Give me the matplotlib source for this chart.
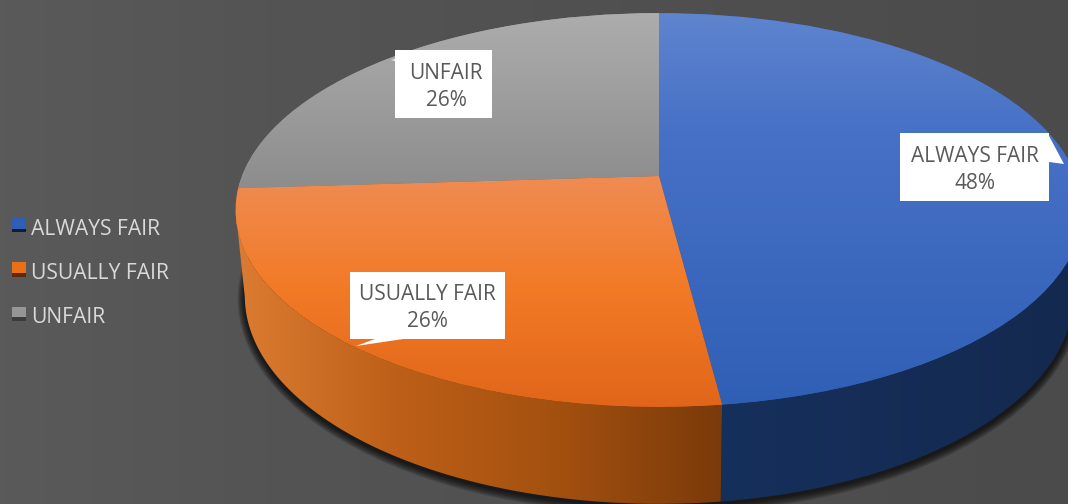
#3D looking pie chart, ALWAYS FAIR / USUALLY FAIR / UNFAIR
import numpy as np
import matplotlib
matplotlib.use("Agg")
import matplotlib.pyplot as plt
from matplotlib.colors import LinearSegmentedColormap
from matplotlib.legend_handler import HandlerBase
from matplotlib.patches import Patch, PathPatch, Polygon, Rectangle
from matplotlib.path import Path
from matplotlib.transforms import Transform

plt.rcParams['font.family'] = ['Open Sans', 'DejaVu Sans']

#chart data
categories = ["ALWAYS FAIR", "USUALLY FAIR", "UNFAIR"]
percents = [48, 26, 26]

#colors, top to bottom on the top face, left to right on the side wall
top_colors = [[(0, "#5f85ce"), (0.3, "#4771c6"), (1, "#2f5fb5")],
              [(0, "#ef8c55"), (0.5, "#f27a25"), (1, "#e0651a")],
              [(0, "#adadad"), (0.5, "#9d9d9d"), (1, "#8c8c8c")]]
side_colors = [["#16305c", "#14294f"],
               ["#dc7c32", "#bd5f18", "#a3500f", "#7a3a0a"],
               ["#555555", "#555555"]]
side_ranges = [(720, 1085), (236, 722), (230, 1085)]
legend_colors = ["#2f5fb5", "#ea6f17", "#969696"]
legend_darks = ["#0e1c3a", "#5c2a08", "#3c3c3c"]

#white label boxes (left, top, width, height), text center and callout tail
label_boxes = [(900, 133, 149, 68), (350, 272, 155, 67), (395, 50, 97, 68)]
label_centers = [(975, 170), (427, 308), (446, 87)]
label_tails = [[(1048, 134), (1049, 162), (1064, 164)],
               [(375, 339), (410, 338), (356, 346)],
               [(396, 59), (396, 61), (391, 60)]]

TILT = 0.1725


class Perspective(Transform):
    #maps the unit circle of the pie to the tilted disc, in pixels
    input_dims = 2
    output_dims = 2

    def __init__(self, cx, cy, sx, sy, k=TILT):
        super().__init__()
        self.cx, self.cy, self.sx, self.sy, self.k = cx, cy, sx, sy, k

    def transform_non_affine(self, values):
        values = np.asarray(values)
        w = 1 + self.k * values[:, 1]
        return np.column_stack([self.cx + self.sx * values[:, 0] / w,
                                self.cy - self.sy * values[:, 1] / w])


class TwoToneHandler(HandlerBase):
    #legend swatch with the dark strip at the bottom, sits a bit above the text center
    def create_artists(self, legend, orig, xd, yd, w, h, fontsize, trans):
        light = Rectangle((xd, yd + 2), w, h, color=orig.get_facecolor(), lw=0, transform=trans)
        dark = Rectangle((xd, yd + 2), w, h * 0.24, color=orig.dark, lw=0, transform=trans)
        return [light, dark]


fig = plt.figure(figsize=(10.68, 5.04), dpi=100)
ax = fig.add_axes([0, 0, 1, 1])

top_view = Perspective(659, 176, 417, 191)
bottom_view = Perspective(659, 260, 408, 201.8)

wedges, _ = ax.pie(percents, startangle=90, counterclock=False, colors=legend_colors,
                   wedgeprops={'linewidth': 0})

#background
bg_cmap = LinearSegmentedColormap.from_list("bg", [(0, "#5a5a5a"), (0.25, "#545454"), (1, "#4b4b4b")])
ax.imshow(np.linspace(0, 1, 256).reshape(1, -1), cmap=bg_cmap, extent=(0, 1068, 504, 0),
          aspect='auto', zorder=0)

#soft shadow under the pie
circle = Path.unit_circle()
for i in range(7, 0, -1):
    shadow_view = Perspective(659, 262, 408 + i, 201.8 + i)
    ax.add_patch(PathPatch(circle, transform=shadow_view + ax.transData, fc="black",
                           lw=0, alpha=0.14, zorder=1))

#side walls, only the part of each arc that faces the viewer
for n, wedge in enumerate(wedges):
    t = np.radians(np.linspace(wedge.theta1, wedge.theta2, 200))
    arc = np.column_stack([np.cos(t), np.sin(t)])
    arc = arc[arc[:, 1] < -TILT]
    if len(arc) < 2:
        continue
    wall = np.vstack([top_view.transform(arc), bottom_view.transform(arc)[::-1]])
    patch = Polygon(wall, closed=True, fc="none", lw=0, transform=ax.transData, zorder=2)
    ax.add_patch(patch)
    left, right = side_ranges[n]
    cmap = LinearSegmentedColormap.from_list("side%d" % n, side_colors[n])
    im = ax.imshow(np.linspace(0, 1, 256).reshape(1, -1), cmap=cmap, aspect='auto',
                   extent=(left, right, 504, 0), zorder=2)
    im.set_clip_path(patch)

#top face, the real pie wedges bent through the perspective
for n, wedge in enumerate(wedges):
    wedge.set_transform(top_view + ax.transData)
    wedge.set_zorder(3)
    cmap = LinearSegmentedColormap.from_list("top%d" % n, top_colors[n])
    im = ax.imshow(np.linspace(0, 1, 256).reshape(-1, 1), cmap=cmap, aspect='auto',
                   extent=(200, 1100, 410, 10) if n == 0 else
                   ((200, 1100, 410, 170) if n == 1 else (200, 1100, 192, 10)), zorder=4)
    im.set_clip_path(wedge)

#labels
for n, name in enumerate(categories):
    left, top, width, height = label_boxes[n]
    ax.add_patch(Rectangle((left, top), width, height, fc="white", lw=0, zorder=5))
    ax.add_patch(Polygon(label_tails[n], closed=True, fc="white", lw=0, zorder=5))
    ax.text(label_centers[n][0], label_centers[n][1], "%s\n%d%%" % (name, percents[n]),
            ha="center", va="center", fontsize=15, color="#595959", linespacing=1.43, zorder=6)

#legend
handles = []
for n, name in enumerate(categories):
    handle = Patch(facecolor=legend_colors[n], label=name)
    handle.dark = legend_darks[n]
    handles.append(handle)
ax.legend(handles=handles, handler_map={Patch: TwoToneHandler()}, loc="center left",
          bbox_to_anchor=(12, 273.5), bbox_transform=ax.transData, frameon=False, fontsize=15.2,
          labelcolor="#d9d9d9", handlelength=0.66, handleheight=0.66, handletextpad=0.24,
          labelspacing=1.1, borderpad=0, borderaxespad=0)

ax.set_aspect('auto')
ax.set_xlim(0, 1068)
ax.set_ylim(504, 0)
ax.axis("off")

fig.savefig("out.png", dpi=100)
